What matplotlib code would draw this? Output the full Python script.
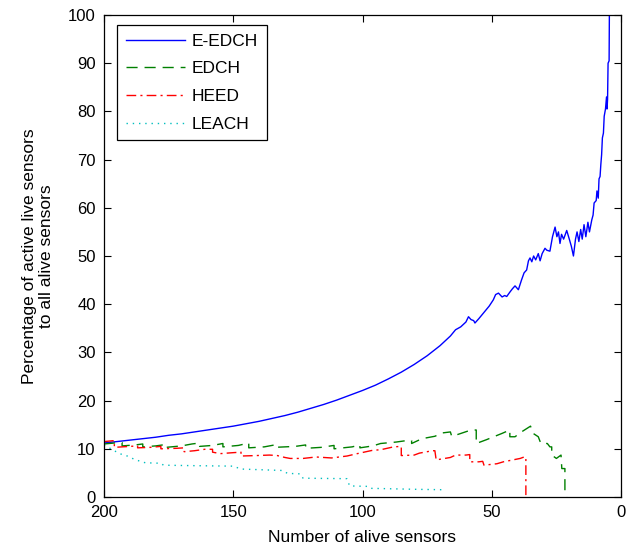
import matplotlib
matplotlib.use("Agg")
import matplotlib.pyplot as plt

plt.rcParams['font.family'] = ['Liberation Sans', 'DejaVu Sans']

# ---- data ----
eedch_x = [200, 195, 190, 185, 180, 175, 170, 165, 160, 155, 150, 145, 140, 135, 130, 125, 120,
           115, 110, 105, 100, 95, 90, 85, 80, 75, 70, 66, 64, 62, 60, 59, 58, 57, 56.5, 55, 53,
           51, 49.4, 48.5, 47.4, 46, 45, 44.2, 43, 42, 41, 40.5, 39.7, 38.5, 37.5, 36.5, 35.8,
           35.2, 34.5, 33.8, 33, 32, 31.3, 30.5, 29.4, 28.7, 27.5, 26.5, 25.5, 24.8, 24.2, 23.6,
           23, 22.2, 21, 20, 19.2, 18.4, 17.6, 17, 16.3, 15.6, 15, 14.3, 13.6, 12.8, 12.2, 11.3,
           10.8, 10.4, 9.6, 9.3, 8.8, 8.5, 8.1, 7.8, 7.5, 7.2, 6.8, 6.5, 6.0, 5.6, 5.4, 5.2, 5.0,
           4.6, 4.5, 4.4]
eedch_y = [11.2, 11.5, 11.8, 12.1, 12.4, 12.8, 13.1, 13.5, 13.9, 14.3, 14.7, 15.2, 15.7, 16.3,
           16.9, 17.6, 18.4, 19.2, 20.1, 21.1, 22.1, 23.2, 24.5, 25.9, 27.5, 29.3, 31.4, 33.4,
           34.7, 35.3, 36.3, 37.4, 36.8, 36.6, 36.1, 37.0, 38.3, 39.6, 40.9, 42.0, 42.3, 41.5,
           41.8, 41.6, 42.5, 43.2, 43.8, 43.5, 43.0, 45.0, 46.5, 47.1, 49.0, 49.6, 48.8, 50.0,
           49.2, 50.5, 49.0, 50.5, 51.6, 51.2, 51.0, 54.0, 56.0, 54.0, 55.0, 52.6, 54.5, 53.5,
           55.3, 53.5, 52.0, 50.0, 53.5, 55.0, 53.0, 55.5, 53.5, 56.5, 54.0, 57.0, 55.0, 57.5,
           58.5, 61.0, 61.5, 63.5, 62.0, 66.0, 66.5, 69.0, 71.0, 74.5, 75.5, 79.0, 80.5, 83.0,
           80.5, 82.5, 90.0, 90.5, 100.0, 101.0]

edch_x = [200, 196, 193, 193, 188, 185, 185, 180, 176, 176, 170, 166, 163, 163, 158, 154, 154,
          148, 144, 144, 138, 134, 134, 126, 122, 122, 116, 111, 111, 104, 101, 101, 96, 93, 87,
          83, 81, 81, 77, 72, 69, 66, 65.5, 63, 58, 56, 56, 52, 46, 43, 43, 41, 38.5, 35, 34,
          32, 31, 28.5, 27.5, 26.8, 26.8, 25, 23.2, 22.9, 21.7, 21.7, 21]
edch_y = [11.0, 11.2, 11.3, 10.6, 10.8, 11.0, 10.4, 10.6, 10.9, 10.3, 10.6, 11.0, 11.2, 10.5,
          10.7, 11.1, 10.4, 10.7, 11.2, 10.2, 10.4, 10.8, 10.3, 10.5, 10.8, 10.1, 10.3, 10.7,
          10.0, 10.4, 10.8, 10.2, 10.6, 11.1, 11.4, 11.7, 11.7, 11.1, 12.1, 12.6, 13.3, 13.5,
          12.6, 13.0, 13.9, 13.9, 11.1, 11.9, 13.2, 13.9, 12.5, 12.5, 13.5, 14.7, 13.2, 12.5,
          11.1, 11.1, 10.4, 10.4, 8.7, 8.0, 8.7, 5.9, 5.9, 1.4, 0.0]

heed_x = [200, 196, 196, 190, 187, 187, 182, 178, 178, 172, 169, 169, 165, 161, 158, 158, 155,
          150, 147, 147, 141, 136, 133, 130, 128, 123, 118, 112, 106, 102, 96, 93, 88, 85, 85,
          80, 78, 73, 72, 71.5, 66, 64, 60, 58.5, 58.5, 55, 53.5, 53, 48, 45.5, 39, 37.5, 36.8,
          36.8]
heed_y = [11.5, 11.7, 10.3, 10.5, 10.6, 10.2, 10.3, 10.5, 10.0, 10.1, 10.2, 9.4, 9.6, 9.9, 9.9,
          9.3, 9.0, 9.2, 9.3, 8.5, 8.6, 8.7, 8.6, 8.2, 8.0, 8.0, 8.3, 8.1, 8.5, 9.0, 9.7, 9.8,
          10.4, 10.5, 8.6, 8.7, 9.1, 9.6, 9.6, 7.7, 8.2, 8.7, 8.7, 8.8, 7.3, 7.3, 7.4, 6.6, 6.9,
          7.3, 8.0, 8.3, 8.3, 0.0]

leach_x = [200, 198, 196, 194, 191, 189, 186, 184, 178, 177, 165, 150, 147, 131, 129, 124, 123,
           106, 105, 98, 97, 80, 68]
leach_y = [10.8, 10.2, 9.6, 9.0, 8.5, 8.0, 7.4, 7.1, 7.0, 6.6, 6.5, 6.4, 5.8, 5.5, 4.9, 4.8, 3.9,
           3.8, 2.3, 2.2, 1.8, 1.6, 1.5]

series_names = ['E-EDCH', 'EDCH', 'HEED', 'LEACH']
x_ticks = [0, 50, 100, 150, 200]
y_ticks = [0, 10, 20, 30, 40, 50, 60, 70, 80, 90, 100]

# ---- figure ----
fig = plt.figure(figsize=(6.31, 5.48), dpi=100)
ax = fig.add_axes([104/631, 1-497/548, (621-104)/631, (497-15)/548])

lw = 1.0
ax.plot(eedch_x, eedch_y, color=(0, 0, 1), lw=lw, label=series_names[0])
ax.plot(edch_x, edch_y, color=(0, 0.5, 0), lw=lw, linestyle=(0, (8, 5)), label=series_names[1])
ax.plot(heed_x, heed_y, color=(1, 0, 0), lw=lw, linestyle=(0, (7, 3, 1.5, 3)), label=series_names[2])
ax.plot(leach_x, leach_y, color=(0, 0.75, 0.75), lw=lw, linestyle=(0, (1, 3.5)), label=series_names[3])

ax.set_xlim(200, 0)
ax.set_ylim(0, 100)
ax.set_xticks(x_ticks)
ax.set_yticks(y_ticks)
ax.tick_params(direction='in', length=5, width=0.8, top=True, right=True,
               labelsize=12, pad=6)
for s in ax.spines.values():
    s.set_linewidth(0.9)

ax.set_xlabel('Number of alive sensors', fontsize=12.5, labelpad=7)
ax.set_ylabel('Percentage of active live sensors\nto all alive sensors', fontsize=12.5,
              labelpad=10, linespacing=1.15)

leg = ax.legend(loc='upper left', bbox_to_anchor=((117-104)/517, 1-(25-15)/482),
                borderaxespad=0, fontsize=12.5, handlelength=3.4, handletextpad=0.4,
                labelspacing=0.72, borderpad=0.5, fancybox=False, framealpha=1,
                edgecolor='black')
leg.get_frame().set_linewidth(0.9)

fig.savefig('out.png', dpi=100)
